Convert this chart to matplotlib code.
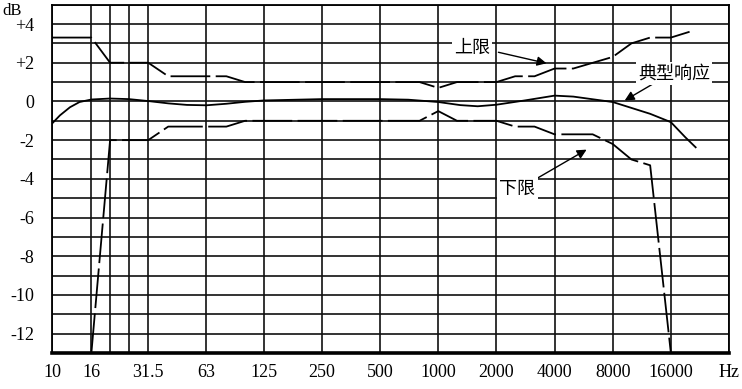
import matplotlib
matplotlib.use("Agg")
import matplotlib.pyplot as plt

# 频率轴刻度 (Hz)
grid_f = [10, 16, 20, 25, 31.5, 63, 125, 250, 500, 1000, 2000, 4000, 8000, 16000, 32000]
grid_f_labels = ["10", "16", "", "", "31.5", "63", "125", "250", "500", "1000",
                 "2000", "4000", "8000", "16000", "Hz"]
db_ticks = list(range(-13, 6))
db_labels = {4: "+4", 2: "+2", 0: "0", -2: "-2", -4: "-4", -6: "-6",
             -8: "-8", -10: "-10", -12: "-12"}

# 上限
upper_f = [10, 16, 20, 31.5, 40, 80, 100, 800, 1000, 1250, 2000, 2500, 3150,
           4000, 5000, 8000, 10000, 12500, 16000, 20000]
upper_db = [3.3, 3.3, 2.0, 2.0, 1.3, 1.3, 1.0, 1.0, 0.7, 1.0, 1.0, 1.3, 1.3,
            1.7, 1.7, 2.3, 3.0, 3.3, 3.3, 3.6]

# 下限
lower_f = [16, 20, 31.5, 40, 80, 100, 800, 1000, 1250, 2000, 2500, 3150,
           4000, 6300, 8000, 10000, 12500, 16000]
lower_db = [-13, -2, -2, -1.3, -1.3, -1.0, -1.0, -0.5, -1.0, -1.0, -1.3, -1.3,
            -1.7, -1.7, -2.2, -3.0, -3.3, -13]

# 典型响应
typ_f = [10, 11, 12.4, 13.9, 16, 20, 25, 31.5, 40, 50, 63, 80, 100, 125, 250,
         500, 700, 1000, 1300, 1600, 2000, 2800, 4000, 5000, 8000, 12500,
         16000, 19000, 21500]
typ_db = [-1.15, -0.72, -0.3, -0.03, 0.1, 0.15, 0.12, 0.02, -0.1, -0.18, -0.2,
          -0.12, -0.02, 0.05, 0.12, 0.12, 0.09, -0.03, -0.19, -0.25, -0.17,
          0.05, 0.3, 0.25, -0.03, -0.64, -1.07, -1.85, -2.37]

num_font = "Liberation Serif"
cjk_font = ["Noto Sans CJK SC", "DejaVu Sans"]

fig = plt.figure(figsize=(7.42, 3.89), dpi=100)
ax = fig.add_axes([0.070, 0.0925, 0.9125, 0.8955])

ax.set_xscale("log")
ax.set_xlim(10, 32000)
ax.set_ylim(-13, 5)

ax.set_xticks(grid_f)
ax.set_xticklabels(grid_f_labels, fontfamily=num_font, fontsize=13)
ax.xaxis.set_minor_locator(matplotlib.ticker.NullLocator())
ax.set_yticks(db_ticks)
ax.set_yticklabels([db_labels.get(v, "") for v in db_ticks], fontfamily=num_font, fontsize=13)
ax.tick_params(length=0)
ax.tick_params(axis="x", pad=8)
ax.tick_params(axis="y", pad=13)
ax.grid(True, color="#111111", lw=1.2)
ax.set_axisbelow(True)

for s in ax.spines.values():
    s.set_linewidth(1.3)
ax.spines["bottom"].set_linewidth(2.6)

dash = (0, (22, 3))
ax.plot(upper_f, upper_db, color="black", lw=1.3, linestyle=dash)
ax.plot(lower_f, lower_db, color="black", lw=1.3, linestyle=dash)
ax.plot(typ_f, typ_db, color="black", lw=1.3)

arrow = dict(arrowstyle="-|>", color="black", lw=1.0, mutation_scale=14,
             shrinkA=0, shrinkB=0)
box = dict(facecolor="white", edgecolor="none", pad=1.5)
ax.annotate("", xy=(3635, 1.97), xytext=(2048, 2.54), arrowprops=arrow)
ax.text(1500, 2.75, "上限", fontfamily=cjk_font, fontsize=13, ha="center", va="center", bbox=box)
ax.annotate("", xy=(9230, 0.05), xytext=(13050, 0.93), arrowprops=arrow)
ax.text(16600, 1.45, "典型响应", fontfamily=cjk_font, fontsize=13, ha="center", va="center", bbox=box)
ax.annotate("", xy=(5860, -2.49), xytext=(3226, -3.99), arrowprops=arrow)
ax.text(2570, -4.5, "下限", fontfamily=cjk_font, fontsize=13, ha="center", va="center", bbox=box)

fig.text(0.003, 0.972, "dB", fontfamily=num_font, fontsize=12, ha="left", va="center")

fig.savefig("out.png", dpi=100)
